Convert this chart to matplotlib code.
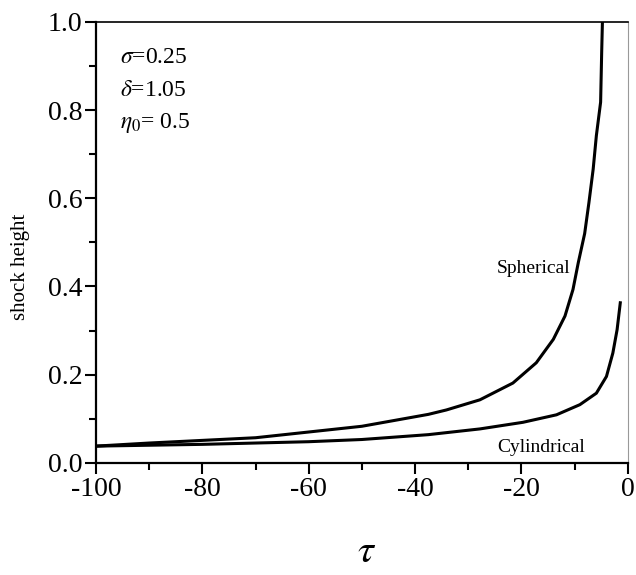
import numpy as np
import matplotlib
matplotlib.use("Agg")
import matplotlib.pyplot as plt
from matplotlib.ticker import MultipleLocator

plt.rcParams['font.family'] = ['Liberation Serif', 'DejaVu Serif']
plt.rcParams['mathtext.fontset'] = 'stix'

# Spherical shock height vs tau
tau_sph = [-100, -90, -80, -70, -60, -50, -37.5, -34.1, -27.8, -21.6, -17.2,
           -14.0, -11.8, -10.3, -9.3, -8.1, -7.3, -6.5, -5.9, -5.1, -4.9, -4.76]
h_sph = [0.038, 0.045, 0.051, 0.057, 0.070, 0.083, 0.110, 0.120, 0.143, 0.181, 0.227,
         0.280, 0.333, 0.393, 0.454, 0.520, 0.590, 0.666, 0.742, 0.818, 0.931, 1.0]

# Cylindrical shock height vs tau
tau_cyl = [-100, -90, -80, -70, -60, -50, -37.5, -27.8, -19.7, -13.4, -9.0,
           -5.9, -4.0, -2.8, -2.0, -1.4]
h_cyl = [0.038, 0.040, 0.042, 0.045, 0.048, 0.053, 0.064, 0.077, 0.092, 0.109, 0.132,
         0.158, 0.196, 0.249, 0.302, 0.363]

fig = plt.figure(figsize=(6.36, 5.75), dpi=100)
ax = fig.add_axes([0.151, 0.195, 0.836, 0.767])

ax.plot(tau_sph, h_sph, color='k', linewidth=2.2)
ax.plot(tau_cyl, h_cyl, color='k', linewidth=2.2)

ax.set_xlim(-100, 0)
ax.set_ylim(0.0, 1.0)
ax.xaxis.set_major_locator(MultipleLocator(20))
ax.xaxis.set_minor_locator(MultipleLocator(10))
ax.yaxis.set_major_locator(MultipleLocator(0.2))
ax.yaxis.set_minor_locator(MultipleLocator(0.1))
ax.xaxis.set_major_formatter(matplotlib.ticker.FuncFormatter(lambda v, p: f"{v:.0f}"))
ax.yaxis.set_major_formatter(matplotlib.ticker.FuncFormatter(lambda v, p: f"{v:.1f}"))

ax.tick_params(which='major', direction='out', length=8, width=1.5, labelsize=20, pad=2)
ax.tick_params(which='minor', direction='out', length=5, width=1.5)
ax.tick_params(top=False, right=False, which='both')

for s in ['left', 'bottom']:
    ax.spines[s].set_linewidth(1.6)
ax.spines['top'].set_linewidth(1.2)
ax.spines['right'].set_linewidth(0.8)
ax.spines['right'].set_color('#999999')

ax.set_ylabel('shock height', fontsize=15)
ax.yaxis.set_label_coords(-0.125, 0.444)
# x label placed by its centre, near the bottom edge as in the reference
fig.text(367 / 636, 1 - 553 / 575, r'$\tau$', fontsize=29, ha='center', va='center')

ax.text(0.045, 0.92, r'$\sigma$=0.25', transform=ax.transAxes, fontsize=17, va='center')
ax.text(0.045, 0.845, r'$\delta$=1.05', transform=ax.transAxes, fontsize=17, va='center')
ax.text(0.045, 0.77, r'$\eta_0$= 0.5', transform=ax.transAxes, fontsize=17, va='center')

ax.text(-10.8, 0.44, 'Spherical', fontsize=14, ha='right', va='center')
ax.text(-24.5, 0.035, 'Cylindrical', fontsize=14, ha='left', va='center')

fig.savefig('out.png', dpi=100)
